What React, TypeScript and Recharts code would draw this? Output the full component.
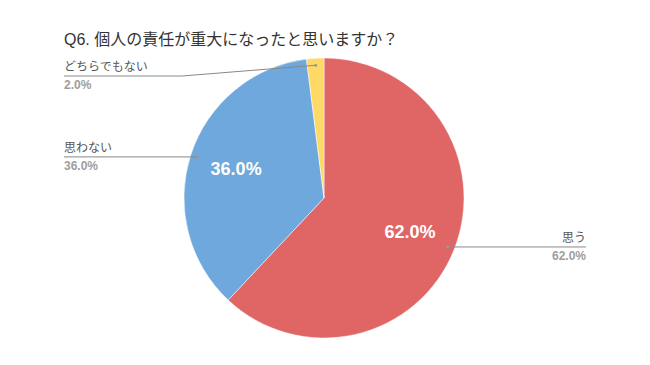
import React from 'react';
import { PieChart, Pie, Cell } from 'recharts';

const categories = ['思う', '思わない', 'どちらでもない'];
const values = [62, 36, 2];
const colors = ['#E06666', '#6FA8DC', '#FFD966'];
const title = 'Q6. 個人の責任が重大になったと思いますか？';

const data = categories.map((name, i) => ({ name, value: values[i] }));

const FONT = "'Liberation Sans', Arial, 'Noto Sans CJK JP', sans-serif";
const RAD = Math.PI / 180;

const renderLabel = (props: any) => {
  const { cx, cy, midAngle, outerRadius, percent, name, index } = props;
  const cos = Math.cos(-midAngle * RAD);
  const sin = Math.sin(-midAngle * RAD);
  const pct = (percent * 100).toFixed(1) + '%';
  // inner label
  const ir = outerRadius * 0.66;
  const ix = cx + ir * cos;
  const iy = cy + ir * sin;
  // outer anchor point
  const pr = outerRadius * 0.95;
  const px = cx + pr * cos;
  const py = cy + pr * sin;
  const left = px < cx;
  const lineY = Math.max(py, 76);
  const textX = left ? 64 : 586;
  const elbowX = left ? textX + 118 : textX - 118;
  return (
    <g key={'lbl' + index}>
      {percent > 0.05 && (
        <text x={ix} y={iy} fill="#fff" fontSize={18} fontWeight="bold" textAnchor="middle" dominantBaseline="central" fontFamily={FONT}>
          {pct}
        </text>
      )}
      <polyline points={`${textX},${lineY} ${elbowX},${lineY} ${px},${py}`} fill="none" stroke="#888" strokeWidth={1} />
      <circle cx={px} cy={py} r={1.5} fill="#999" />
      <text x={textX} y={lineY - 5} fill="#555" fontSize={12} textAnchor={left ? 'start' : 'end'} fontFamily={FONT}>
        {name}
      </text>
      <text x={textX} y={lineY + 13} fill="#9e9e9e" fontSize={12} fontWeight="bold" textAnchor={left ? 'start' : 'end'} fontFamily={FONT}>
        {pct}
      </text>
    </g>
  );
};

export default function App() {
  return (
    <div style={{ position: 'absolute', left: 0, top: 0, width: 650, height: 365, background: '#fff' }}>
      <PieChart width={650} height={365} margin={{ top: 0, right: 0, bottom: 0, left: 0 }}>
        <text x={64} y={45} fill="#333" fontSize={16} fontFamily={FONT}>
          {title}
        </text>
        <Pie
          data={data}
          dataKey="value"
          nameKey="name"
          cx={324}
          cy={198}
          outerRadius={140}
          startAngle={90}
          endAngle={-270}
          stroke="#fff"
          strokeWidth={0.5}
          label={renderLabel}
          labelLine={false}
          isAnimationActive={false}
        >
          {data.map((d, i) => (
            <Cell key={d.name} fill={colors[i]} />
          ))}
        </Pie>
      </PieChart>
    </div>
  );
}
